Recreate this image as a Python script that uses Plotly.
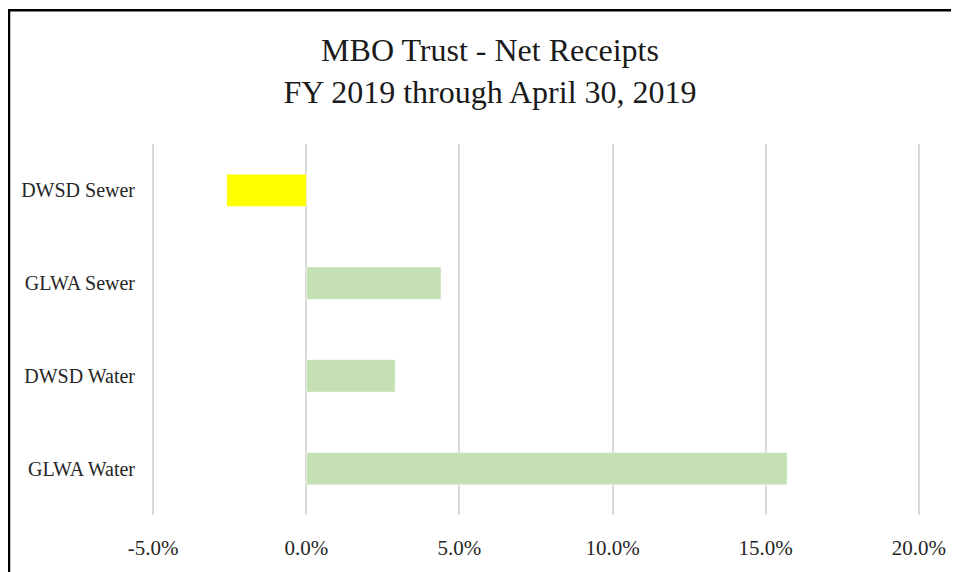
import plotly.graph_objects as go

categories = ["DWSD Sewer", "GLWA Sewer", "DWSD Water", "GLWA Water"]
values = [-0.026, 0.044, 0.029, 0.157]
bar_colors = ["#FFFF00", "#C5E0B4", "#C5E0B4", "#C5E0B4"]
x_ticks = [-0.05, 0.0, 0.05, 0.10, 0.15, 0.20]
x_tick_labels = ["-5.0%", "0.0%", "5.0%", "10.0%", "15.0%", "20.0%"]

title_lines = ["MBO Trust - Net Receipts", "FY 2019 through April 30, 2019"]

# page body has an 8px margin; figure fills the rest of the 959x572 window
OFF = 8
W, H = 959 - OFF, 572 - OFF
# plot area in screen pixels: x 152..920, y 144..517
ml, mr = 152 - OFF, 959 - 920
mt, mb = 144 - OFF, 572 - 517
pw, ph = W - ml - mr, H - mt - mb

def px_to_paper_x(px):
    return (px - OFF - ml) / pw

def px_to_paper_y(py):
    return (H - mb - (py - OFF)) / ph

fig = go.Figure(go.Bar(
    y=categories,
    x=values,
    orientation="h",
    marker=dict(color=bar_colors, line=dict(color="rgba(255,255,255,0.5)", width=1)),
    width=0.35,
))

font_family = "Liberation Serif, Times New Roman, serif"

fig.update_layout(
    width=W, height=H,
    margin=dict(l=ml, r=mr, t=mt, b=mb),
    paper_bgcolor="white",
    plot_bgcolor="white",
    showlegend=False,
    font=dict(family=font_family, color="#262626"),
    title=dict(
        text="<br>".join(title_lines),
        x=(490 - OFF) / W, xref="container", xanchor="center",
        y=1 - (61 - OFF) / H, yref="container", yanchor="middle",
        font=dict(size=32, color="#1a1a1a", family=font_family),
    ),
)

fig.update_xaxes(
    range=[-0.0504, 0.2004],
    tickvals=x_ticks,
    ticktext=x_tick_labels,
    showgrid=True, gridcolor="#D9D9D9", gridwidth=2,
    zeroline=True, zerolinecolor="#D9D9D9", zerolinewidth=2,
    showline=False,
    ticks="",
    ticklabelstandoff=18,
    tickfont=dict(size=21, color="#262626"),
)

fig.update_yaxes(
    categoryorder="array",
    categoryarray=categories[::-1],
    showgrid=False, zeroline=False, showline=False,
    ticks="",
    ticklabelstandoff=16,
    tickfont=dict(size=20, color="#262626"),
)

# outer chart border (cropped on right and bottom in reference)
fig.add_shape(
    type="rect", xref="paper", yref="paper",
    x0=px_to_paper_x(9), x1=px_to_paper_x(975),
    y0=px_to_paper_y(590), y1=px_to_paper_y(9.5),
    line=dict(color="black", width=2.5), fillcolor="rgba(0,0,0,0)",
    layer="above",
)

fig.write_html("out.html")
